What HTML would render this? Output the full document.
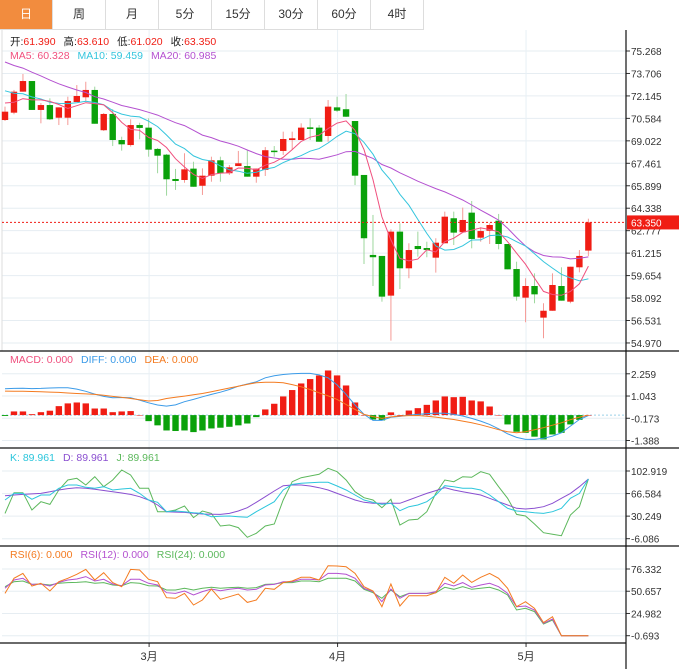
<!DOCTYPE html>
<html><head><meta charset="utf-8">
<style>
body{margin:0;background:#fff;font-family:"Liberation Sans","Noto Sans CJK SC",sans-serif;}
#wrap{position:relative;width:679px;height:669px;overflow:hidden;}
.tabs{position:absolute;left:0;top:0;height:30px;display:flex;}
.tab{width:52px;height:29px;border-right:1px solid #ddd;border-bottom:1px solid #ddd;font-size:12px;line-height:29px;text-align:center;color:#333;}
.tab.on{background:#f28c3e;color:#fff;}
svg{position:absolute;left:0;top:0;}
</style></head><body>
<div id="wrap">
<div class="tabs">
<div class="tab on">日</div>
<div class="tab">周</div>
<div class="tab">月</div>
<div class="tab">5分</div>
<div class="tab">15分</div>
<div class="tab">30分</div>
<div class="tab">60分</div>
<div class="tab">4时</div>
</div>
<svg id="c" width="679" height="669"></svg>
</div>
<script>
const prevCloses=[77.2,76.9,76.8,76.6,76.4,76.5,76.3,76.2,76.1,76.0,74.1,73.6,73.3,73.0,72.75,72.2,71.9,71.6,71.5];
const opens=[70.47,70.98,72.44,73.18,71.17,71.51,70.63,70.63,71.72,72.05,72.56,69.76,70.89,69.08,68.73,70.12,69.94,68.46,68.06,66.37,66.30,67.09,65.90,66.60,67.67,66.77,67.27,67.27,66.53,67.00,68.34,68.32,69.08,69.08,69.96,69.94,69.36,71.35,71.22,70.40,66.65,61.09,61.02,58.26,62.71,60.16,61.71,61.57,60.90,61.90,63.64,62.67,64.03,62.29,62.77,63.47,61.85,60.11,58.12,58.93,56.73,57.21,58.93,57.84,60.23,61.39];
const closes=[71.05,72.44,73.18,71.17,71.51,70.52,71.35,71.79,72.14,72.56,70.21,70.89,69.08,68.78,70.12,69.92,68.41,67.99,66.35,66.23,67.04,65.83,66.60,67.67,66.77,67.18,67.46,66.53,67.09,68.37,68.25,69.15,69.20,69.94,69.85,68.96,71.40,71.12,70.70,66.60,62.25,60.93,58.19,62.71,60.16,61.43,61.50,61.43,61.94,63.75,62.64,63.52,62.20,62.75,63.17,61.85,60.09,58.19,58.93,58.35,57.21,59.00,57.91,60.27,61.02,63.35];
const highs=[71.40,72.56,73.67,73.18,71.65,71.98,71.35,72.09,72.90,73.13,72.79,70.96,71.22,69.31,70.52,70.28,70.59,68.52,68.11,67.07,68.16,67.57,67.11,67.92,67.92,67.34,68.32,68.39,67.09,68.59,68.66,69.66,69.66,70.24,70.59,70.12,71.86,72.09,72.28,70.40,66.65,63.87,61.02,62.87,63.29,61.90,62.71,62.01,62.25,64.10,64.10,64.38,64.84,63.01,63.29,63.94,61.85,60.62,59.47,59.81,57.73,59.81,60.23,60.27,61.43,63.61];
const lows=[70.40,70.87,72.44,71.17,70.24,70.47,70.12,70.12,71.72,71.74,70.21,69.71,68.66,68.34,68.62,69.13,67.92,66.77,65.21,65.61,66.11,65.83,65.26,66.18,66.18,66.65,67.27,66.53,66.11,66.58,67.92,68.04,68.39,69.08,69.08,68.96,68.96,71.03,70.68,65.95,60.46,58.93,57.84,55.13,58.72,59.47,60.97,60.93,59.86,61.90,61.78,62.67,61.55,62.01,61.85,61.48,60.09,57.91,56.41,57.73,55.30,57.21,57.91,57.73,59.88,61.02];
const priceTicks=[75.268,73.706,72.145,70.584,69.022,67.461,65.899,64.338,62.777,61.215,59.654,58.092,56.531,54.970];
const macdHist=[-0.05,0.20,0.20,0.05,0.16,0.24,0.49,0.64,0.69,0.64,0.36,0.36,0.16,0.20,0.22,0,-0.33,-0.56,-0.84,-0.87,-0.84,-0.93,-0.84,-0.73,-0.69,-0.64,-0.56,-0.46,-0.11,0.31,0.62,1.02,1.37,1.73,1.97,2.17,2.44,2.17,1.62,0.69,0,-0.24,-0.29,0.15,0,0.25,0.38,0.56,0.80,1.02,0.98,1.00,0.80,0.75,0.47,0,-0.51,-0.91,-0.97,-1.18,-1.33,-1.06,-0.97,-0.51,-0.26,0];
const diffVals=[1.44,1.46,1.47,1.45,1.46,1.48,1.50,1.49,1.42,1.30,1.15,1.02,0.95,0.96,0.95,0.82,0.67,0.55,0.49,0.56,0.73,0.86,1.00,1.13,1.25,1.40,1.58,1.70,1.82,2.04,2.15,2.22,2.26,2.28,2.28,2.20,2.04,1.65,1.13,0.55,0.04,-0.29,-0.29,-0.12,-0.07,0.00,0.04,0.08,0.11,0.10,0.04,-0.05,-0.18,-0.33,-0.51,-0.75,-1.02,-1.22,-1.33,-1.33,-1.27,-1.15,-0.97,-0.60,-0.24,-0.02];
const deaVals=[1.31,1.30,1.30,1.29,1.28,1.26,1.24,1.21,1.18,1.16,1.13,1.08,1.02,0.97,0.91,0.84,0.77,0.80,0.91,0.98,1.04,1.11,1.18,1.28,1.38,1.48,1.58,1.68,1.77,1.80,1.80,1.77,1.67,1.55,1.40,1.22,1.05,0.86,0.58,0.31,0.04,-0.08,-0.18,-0.10,-0.05,-0.03,-0.02,-0.06,-0.11,-0.18,-0.24,-0.33,-0.42,-0.53,-0.66,-0.80,-0.91,-0.97,-0.91,-0.80,-0.69,-0.55,-0.42,-0.25,-0.11,0];
const macdTicks=[2.259,1.043,-0.173,-1.388];
const kVals=[56.2,66.9,66.9,57.3,64.3,64.3,75.0,80.4,80.4,76.6,75.0,77.7,72.3,73.9,75.0,66.9,56.2,52.5,37.4,38.5,37.4,35.8,34.7,29.4,29.9,30.5,29.4,28.3,37.4,45.5,53.5,72.3,81.4,83.1,84.1,84.7,84.7,78.8,72.3,64.3,56.2,52.5,49.2,50.9,39.0,45.5,48.2,53.5,64.3,79.3,77.7,75.0,75.0,72.3,64.3,53.5,42.8,38.5,37.4,35.8,34.7,37.4,42.8,58.9,66.9,90.0];
const dVals=[63.2,64.3,65.3,66.0,66.9,69.5,72.3,74.5,76.1,75.0,73.4,71.5,69.6,67.5,65.3,61.6,56.2,48.2,37.4,36.8,36.3,35.0,33.7,33.4,33.1,34.7,38.5,43.9,52.5,61.6,70.7,79.3,80.4,80.4,78.8,76.1,72.3,66.9,61.6,56.2,52.5,50.9,50.9,50.9,50.9,56.2,61.6,66.9,71.3,76.1,72.3,69.6,66.9,64.3,58.9,53.5,48.2,42.8,41.7,42.8,45.5,50.9,58.9,66.9,77.7,90.0];
const jVals=[34.7,68.0,68.0,40.1,53.5,49.2,72.3,88.4,91.1,80.4,93.8,77.7,88.4,104.5,96.5,75.0,75.0,37.4,37.4,40.1,46.6,27.8,38.5,34.7,14.3,15.9,11.7,-3.9,2.6,14.3,17.6,56.2,85.7,92.2,94.9,97.6,107.2,101.8,88.4,69.6,60.0,56.2,43.9,57.3,15.9,24.0,25.1,37.4,66.9,88.4,85.7,93.8,92.7,101.8,97.6,77.7,58.9,33.1,30.5,17.6,3.6,1.0,-1.2,32.1,45.5,90.0];
const kdjTicks=[102.919,66.584,30.249,-6.086];
const rsi6=[48.2,65.6,71.3,56.7,59.8,50.9,61.7,65.6,70.2,75.9,63.6,72.1,60.6,55.9,75.9,75.2,64.4,61.7,43.2,42.5,48.2,34.8,40.5,53.2,41.3,44.4,47.5,37.8,40.5,54.0,52.9,60.6,62.5,66.7,66.7,63.6,80.2,79.8,79.0,71.3,55.9,50.9,32.8,59.0,33.6,45.5,45.5,45.5,49.0,66.7,59.8,69.4,60.9,66.7,71.3,65.6,54.0,32.8,38.6,30.9,14.4,21.3,-0.693,-0.693,-0.693,-0.693];
const rsi12=[54.0,63.6,65.6,58.6,59.0,56.7,60.9,63.6,64.8,67.5,62.5,64.4,59.0,57.1,64.4,64.4,59.8,57.9,49.0,48.2,50.9,46.3,50.2,53.2,51.3,52.9,54.0,52.1,52.9,57.9,58.6,61.7,61.7,64.4,64.4,63.6,71.3,71.3,70.2,65.6,54.0,50.2,38.6,53.2,42.5,48.2,48.2,48.2,50.2,59.8,56.7,60.6,55.2,57.9,59.8,55.9,48.2,32.8,33.6,29.0,13.6,18.6,-0.693,-0.693,-0.693,-0.693];
const rsi24=[55.9,61.7,62.5,58.6,59.0,57.9,59.8,60.6,60.9,61.7,59.8,60.6,57.9,57.1,60.6,59.8,57.1,56.7,52.1,52.1,54.0,52.1,54.0,55.2,54.0,54.8,55.2,54.0,54.8,58.6,59.0,60.6,60.6,62.5,62.5,61.7,65.6,65.6,65.6,62.5,52.9,49.0,42.5,52.1,44.4,48.2,48.2,48.2,49.0,55.2,52.9,55.9,52.9,54.0,55.2,52.1,46.3,29.0,30.9,27.1,12.8,17.4,-0.693,-0.693,-0.693,-0.693];
const rsiTicks=[76.332,50.657,24.982,-0.693];
const monthLabels=["3月","4月","5月"];
const monthIdx=[16,37,58];

const NS="http://www.w3.org/2000/svg";
const svg=document.getElementById('c');
function el(tag,attrs,txt){const e=document.createElementNS(NS,tag);for(const k in attrs)e.setAttribute(k,attrs[k]);if(txt!==undefined)e.textContent=txt;svg.appendChild(e);return e;}
const X=i=>5+i*8.975;
const PY=p=>51+(75.268-p)/1.5615*22.46;
const MY=v=>415.1-v*18.29;
const KY=v=>471+(102.919-v)*0.621;
const RY=v=>569+(76.332-v)*0.866;
const W=626;
const red="#f01d14",green="#0aa10a";

// grid + axis labels
function grid(ticks,fy,name,gridOn){
  ticks.forEach(t=>{const y=fy(t);
    if(gridOn){const g=el('line',{x1:2,x2:W,y1:y,y2:y,stroke:'#e6edf2','stroke-width':1});
    
    }
    el('line',{x1:W,x2:W+4,y1:y,y2:y,stroke:'#333'});
    const tx=el('text',{x:W+5,y:y+4,'font-size':10,fill:'#333'},t.toFixed(3));
    
    
  });
}
grid(priceTicks,PY,'price',true);
grid(macdTicks,MY,'macd',true);
grid(kdjTicks,KY,'kdj',true);
grid(rsiTicks,RY,'rsi',true);
monthIdx.forEach((mi,k)=>{
  const x=X(mi)+0.5;
  el('line',{x1:x,x2:x,y1:30,y2:643,stroke:'#e8f0f5'});
  const t=el('text',{x:x,y:660,'font-size':11,fill:'#333','text-anchor':'middle'},monthLabels[k]);
  
  
  el('line',{x1:x,x2:x,y1:643,y2:647,stroke:'#333'});
});
el('line',{x1:2,x2:2,y1:30,y2:351,stroke:'#ddd'});
// separators
[351,448,546].forEach(y=>el('line',{x1:0,x2:679,y1:y,y2:y,stroke:'#111','stroke-width':1.2}));
el('line',{x1:0,x2:W,y1:643,y2:643,stroke:'#111','stroke-width':1.2});
el('line',{x1:W,x2:W,y1:30,y2:669,stroke:'#111','stroke-width':1.2});

// candles
for(let i=0;i<closes.length;i++){
  const up=closes[i]>=opens[i];
  const c=up?red:green, wc=up?'#f59a96':'#9ed79e';
  const x=X(i);
  const w=el('line',{x1:x,x2:x,y1:PY(highs[i]),y2:PY(lows[i]),stroke:wc,'stroke-width':1});
  
  
  const t=PY(Math.max(opens[i],closes[i])),b=PY(Math.min(opens[i],closes[i]));
  const r=el('rect',{x:x-3.2,y:t,width:6.4,height:Math.max(1.5,b-t),fill:c});
  
  
}
// MAs
const all=prevCloses.concat(closes);
function ma(n){const o=[];for(let i=0;i<closes.length;i++){const j=i+prevCloses.length;let s=0;for(let k=j-n+1;k<=j;k++)s+=all[k];o.push(s/n);}return o;}
function line(vals,fy,color,name){
  const d=vals.map((v,i)=>(i?'L':'M')+X(i).toFixed(1)+' '+fy(v).toFixed(1)).join(' ');
  const p=el('path',{d:d,fill:'none',stroke:color,'stroke-width':1});
  
  
}
line(ma(20),PY,'#b451d0','ma20-line');
line(ma(10),PY,'#34c5dd','ma10-line');
line(ma(5),PY,'#f0507e','ma5-line');
// last price line
const ly=PY(closes[closes.length-1]);
el('line',{x1:2,x2:W,y1:ly,y2:ly,stroke:'#f01d14','stroke-dasharray':'2,2'});
const lb=el('rect',{x:W+1,y:ly-7,width:52,height:14,fill:'#f01d14'});


el('text',{x:W+5,y:ly+4,'font-size':10,fill:'#fff'},closes[closes.length-1].toFixed(3));

// MACD
const z=MY(0);
el('line',{x1:2,x2:W,y1:z,y2:z,stroke:'#9ad0e8','stroke-dasharray':'2,2'});
macdHist.forEach((v,i)=>{
  const y=MY(v);
  const r=el('rect',{x:X(i)-3.2,y:Math.min(y,z),width:6.4,height:Math.max(0.5,Math.abs(y-z)),fill:v>=0?red:green});
  
  
});
line(diffVals,MY,'#3b9be8','diff-line');
line(deaVals,MY,'#f47b20','dea-line');
// KDJ
line(jVals,KY,'#5cb85c','kdj-j-line');
line(dVals,KY,'#8a4fd0','kdj-d-line');
line(kVals,KY,'#2cc6dc','kdj-k-line');
// RSI
line(rsi24,RY,'#5cb85c','rsi24-line');
line(rsi12,RY,'#b451d0','rsi12-line');
line(rsi6,RY,'#f47b20','rsi6-line');

// legends
function legend(y,items,name){
  let x=10;
  items.forEach(([lab,col,labcol])=>{
    const t=el('text',{x:x,y:y,'font-size':10.5,fill:col},'');
    
    
    if(labcol){const a=document.createElementNS(NS,'tspan');a.setAttribute('fill',labcol);a.textContent=lab[0];t.appendChild(a);const b=document.createElementNS(NS,'tspan');b.textContent=lab[1];t.appendChild(b);}
    else t.textContent=lab;
    x+=t.getComputedTextLength()+8;
  });
}
legend(45,[[['开:','61.390'],red,'#222'],[['高:','63.610'],red,'#222'],[['低:','61.020'],red,'#222'],[['收:','63.350'],red,'#222']],'ohlc-legend');
legend(59,[['MA5: 60.328','#f0507e'],['MA10: 59.459','#34c5dd'],['MA20: 60.985','#b451d0']],'ma-legend');
legend(363,[['MACD: 0.000','#f0507e'],['DIFF: 0.000','#3b9be8'],['DEA: 0.000','#f47b20']],'macd-legend');
legend(461,[['K: 89.961','#2cc6dc'],['D: 89.961','#8a4fd0'],['J: 89.961','#5cb85c']],'kdj-legend');
legend(558,[['RSI(6): 0.000','#f47b20'],['RSI(12): 0.000','#b451d0'],['RSI(24): 0.000','#5cb85c']],'rsi-legend');
</script>
</body></html>
